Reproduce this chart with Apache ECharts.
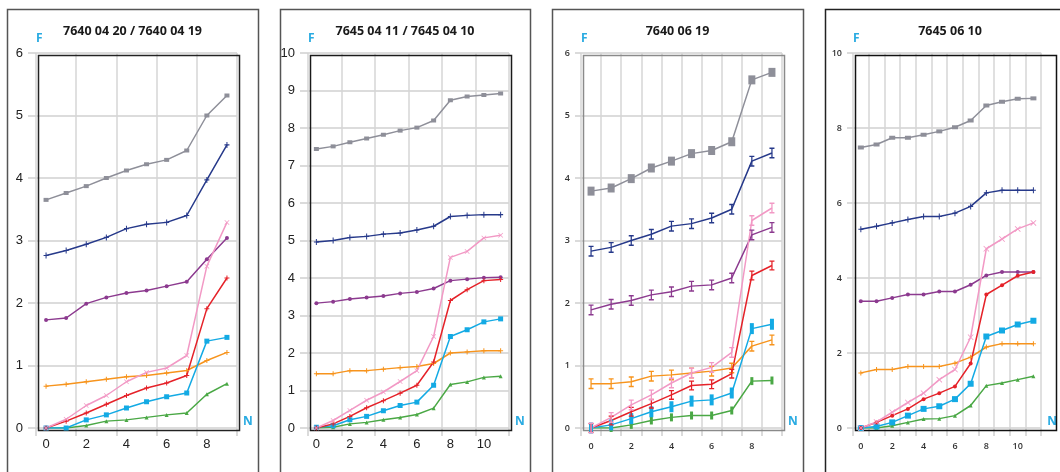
<!DOCTYPE html>
<html><head><meta charset="utf-8">
<script src="https://cdn.jsdelivr.net/npm/echarts@6/dist/echarts.min.js"></script>
<style>html,body{margin:0;padding:0;background:#fff}#c{width:1060px;height:472px}</style>
</head><body><div id="c"></div>
<script>
// ---------- data ----------
const cats10 = ['0','1','2','3','4','5','6','7','8','9'];
const cats12 = ['0','1','2','3','4','5','6','7','8','9','10','11'];
const titles = ['7640 04 20 / 7640 04 19', '7645 04 11 / 7645 04 10', '7640 06 19', '7645 06 10'];
const seriesNames = ['gray','navy','purple','orange','green','cyan','red','pink'];

// panel 1 : 7640 04 20 / 7640 04 19
const p1_gray   = [3.65,3.76,3.87,4.00,4.12,4.22,4.29,4.44,5.00,5.32];
const p1_navy   = [2.76,2.84,2.94,3.05,3.19,3.26,3.29,3.40,3.97,4.53];
const p1_pink   = [0.00,0.14,0.36,0.52,0.74,0.89,0.96,1.16,2.59,3.29];
const p1_purple = [1.73,1.76,1.99,2.09,2.16,2.20,2.27,2.34,2.70,3.04];
const p1_red    = [0.00,0.11,0.24,0.38,0.52,0.64,0.72,0.84,1.91,2.40];
const p1_cyan   = [0.00,0.00,0.13,0.21,0.32,0.42,0.50,0.56,1.39,1.45];
const p1_orange = [0.67,0.70,0.74,0.78,0.82,0.84,0.88,0.92,1.08,1.21];
const p1_green  = [0.00,0.00,0.04,0.11,0.13,0.17,0.21,0.24,0.54,0.71];

// panel 2 : 7645 04 11 / 7645 04 10
const p2_gray   = [7.44,7.51,7.62,7.72,7.82,7.93,8.01,8.20,8.74,8.84,8.88,8.92];
const p2_navy   = [4.96,5.00,5.08,5.11,5.17,5.20,5.28,5.38,5.64,5.67,5.69,5.69];
const p2_pink   = [0.00,0.20,0.47,0.74,0.96,1.24,1.53,2.44,4.55,4.71,5.07,5.14];
const p2_purple = [3.33,3.37,3.44,3.48,3.52,3.59,3.63,3.72,3.93,3.97,4.01,4.02];
const p2_red    = [0.00,0.11,0.31,0.54,0.73,0.93,1.14,1.76,3.40,3.69,3.93,3.96];
const p2_cyan   = [0.02,0.06,0.22,0.31,0.46,0.60,0.69,1.14,2.44,2.62,2.83,2.91];
const p2_orange = [1.45,1.45,1.53,1.53,1.57,1.61,1.64,1.72,2.00,2.03,2.06,2.06];
const p2_green  = [0.00,0.02,0.11,0.15,0.22,0.28,0.36,0.53,1.16,1.23,1.35,1.38];

// panel 3 : 7640 06 19
const p3_gray   = [3.79,3.84,3.99,4.16,4.27,4.39,4.44,4.58,5.57,5.69];
const p3_navy   = [2.83,2.89,3.00,3.10,3.23,3.27,3.36,3.50,4.27,4.40];
const p3_pink   = [0.00,0.17,0.37,0.53,0.72,0.88,0.97,1.21,3.32,3.52];
const p3_purple = [1.89,1.98,2.04,2.13,2.18,2.27,2.29,2.40,3.09,3.21];
const p3_red    = [0.00,0.12,0.26,0.39,0.53,0.68,0.70,0.87,2.44,2.60];
const p3_cyan   = [0.00,0.05,0.15,0.26,0.34,0.43,0.45,0.56,1.59,1.66];
const p3_orange = [0.71,0.71,0.74,0.83,0.85,0.88,0.91,0.96,1.31,1.41];
const p3_green  = [0.00,0.00,0.05,0.12,0.17,0.20,0.20,0.28,0.75,0.76];

// panel 4 : 7645 06 10
const p4_gray   = [7.48,7.56,7.74,7.74,7.82,7.91,8.02,8.20,8.60,8.70,8.78,8.79];
const p4_navy   = [5.30,5.38,5.47,5.56,5.64,5.64,5.73,5.91,6.27,6.34,6.34,6.34];
const p4_pink   = [0.00,0.16,0.42,0.68,0.93,1.29,1.56,2.42,4.78,5.04,5.31,5.47];
const p4_purple = [3.38,3.38,3.47,3.56,3.56,3.64,3.64,3.82,4.07,4.16,4.16,4.16];
const p4_red    = [0.00,0.15,0.33,0.51,0.77,0.93,1.11,1.72,3.56,3.81,4.06,4.16];
const p4_cyan   = [0.00,0.04,0.15,0.33,0.51,0.58,0.77,1.18,2.44,2.60,2.76,2.86];
const p4_orange = [1.47,1.56,1.56,1.64,1.64,1.64,1.73,1.89,2.16,2.25,2.25,2.25];
const p4_green  = [0.00,0.00,0.06,0.15,0.24,0.25,0.33,0.60,1.13,1.20,1.29,1.38];

const yMax = [6, 10, 6, 10];
const yStep = [1, 1, 1, 2];

// ---------- styling ----------
const colors = {gray:'#8e8f99', navy:'#26398a', purple:'#8c3a8f', orange:'#f7941d',
                green:'#4aa845', cyan:'#13aae4', red:'#e52229', pink:'#f299c5'};
const PLUS = 'path://M4,0H6V4H10V6H6V10H4V6H0V4H4Z';
const XMARK = 'path://M1,0L5,4L9,0L10,1L6,5L10,9L9,10L5,6L1,10L0,9L4,5L0,1Z';
const IBEAM = 'path://M0,0H8V1.6H5V10.4H8V12H0V10.4H3V1.6H0Z';
const symSmall = {gray:['rect',[5,4]], navy:[PLUS,[5,6]], purple:['circle',4], orange:[PLUS,5],
                  green:['triangle',4], cyan:['rect',[5,5]], red:[PLUS,5], pink:[XMARK,5]};
const symP4 = {gray:['rect',[6,4]], navy:[PLUS,[5,6]], purple:['circle',4], orange:[PLUS,5],
                  green:['triangle',4], cyan:['rect',[6,6]], red:['circle',4], pink:[XMARK,6]};
const symBig = {gray:['rect',[7,9]], navy:[IBEAM,[5,11]], purple:[IBEAM,[5,11]], orange:[IBEAM,[5,11]],
                green:['rect',[3,8]], cyan:['rect',[4,11]], red:[IBEAM,[5,10]], pink:[IBEAM,[5,11]]};
const panelSyms = [symSmall, symSmall, symBig, symP4];
const panelData = [
  {gray:p1_gray,navy:p1_navy,purple:p1_purple,orange:p1_orange,green:p1_green,cyan:p1_cyan,red:p1_red,pink:p1_pink},
  {gray:p2_gray,navy:p2_navy,purple:p2_purple,orange:p2_orange,green:p2_green,cyan:p2_cyan,red:p2_red,pink:p2_pink},
  {gray:p3_gray,navy:p3_navy,purple:p3_purple,orange:p3_orange,green:p3_green,cyan:p3_cyan,red:p3_red,pink:p3_pink},
  {gray:p4_gray,navy:p4_navy,purple:p4_purple,orange:p4_orange,green:p4_green,cyan:p4_cyan,red:p4_red,pink:p4_pink}
];
const gridLeft = [36, 308, 581, 853];
const boxLeft = [5, 278, 550, 823];
const boxW = [251, 250, 251, 260];
const borderCol = ['#222', '#1a1a1a', '#8a8a8a', '#111'];
const small = [false, false, true, true];
const cats = [cats10, cats12, cats10, cats12];
const xInterval = [1, 1, 0, 0];

const grids = [], xAxes = [], yAxes = [], series = [], graphics = [];
for (let i = 0; i < 4; i++) {
  grids.push({left: gridLeft[i], top: 53, width: 201, height: 375, show: false, containLabel: false});
  const lblFont = small[i]
    ? {fontSize: 9, fontFamily: 'Open Sans', fontWeight: 600, color: '#333'}
    : {fontSize: 13, fontFamily: 'Liberation Sans', color: '#222'};
  xAxes.push({type: 'category', gridIndex: i, data: cats[i], boundaryGap: true,
    name: 'N', nameLocation: 'end', nameGap: 6,
    nameTextStyle: {color: '#29abe2', fontSize: 12, fontWeight: 'bold', fontFamily: 'Open Sans', verticalAlign: 'bottom'},
    axisLine: {show: false},
    axisTick: {show: true, interval: xInterval[i], length: 8, lineStyle: {color: '#cfcfcf', width: 1.5}},
    axisLabel: Object.assign({interval: 1, margin: small[i] ? 14 : 10}, lblFont),
    splitLine: {show: true, interval: xInterval[i], lineStyle: {color: '#d6d6d6', width: 1.5}}
  });
  yAxes.push({type: 'value', gridIndex: i, min: 0, max: yMax[i], interval: yStep[i],
    name: 'F', nameLocation: 'end', nameGap: 8,
    nameTextStyle: {color: '#29abe2', fontSize: 12, fontWeight: 'bold', fontFamily: 'Open Sans', align: 'left'},
    axisLine: {show: false},
    axisTick: {show: true, length: small[i] ? 6 : 8, lineStyle: {color: '#cfcfcf', width: 1.5}},
    axisLabel: Object.assign({margin: small[i] ? 11 : 13}, lblFont),
    splitLine: {show: true, lineStyle: {color: '#dcdcdc', width: 2}}
  });
  const syms = panelSyms[i];
  for (const nm of seriesNames) {
    series.push({type: 'line', name: nm, xAxisIndex: i, yAxisIndex: i,
      data: panelData[i][nm], symbol: syms[nm][0], symbolSize: syms[nm][1],
      showSymbol: true, showAllSymbol: true,
      lineStyle: {color: colors[nm], width: 1.5}, itemStyle: {color: colors[nm]},
      animation: false, z: 3});
  }
  // outer panel frame
  graphics.push({type: 'rect', left: boxLeft[i], top: 7, z: 1,
    shape: {width: boxW[i], height: 520},
    style: {fill: 'none', stroke: i === 3 ? '#222' : '#555', lineWidth: 1.5}});
  // plot-area frame
  graphics.push({type: 'rect', left: gridLeft[i], top: 53, z: 2,
    shape: {x: 0, y: 0, width: 201, height: 375},
    style: {fill: 'none', stroke: borderCol[i], lineWidth: 1.5}});
  graphics.push({type: 'text', x: boxLeft[i] + boxW[i] / 2 + (i===3 ? -3 : 2), y: 31,
    style: {text: titles[i], textAlign: 'center', textVerticalAlign: 'middle',
      font: 'bold 12.5px "Open Sans"', fill: '#1a1a1a'}});
}
const chart = echarts.init(document.getElementById('c'), null, {renderer: 'canvas'});
chart.setOption({animation: false, grid: grids, xAxis: xAxes, yAxis: yAxes, series: series,
  graphic: graphics});
</script></body></html>
